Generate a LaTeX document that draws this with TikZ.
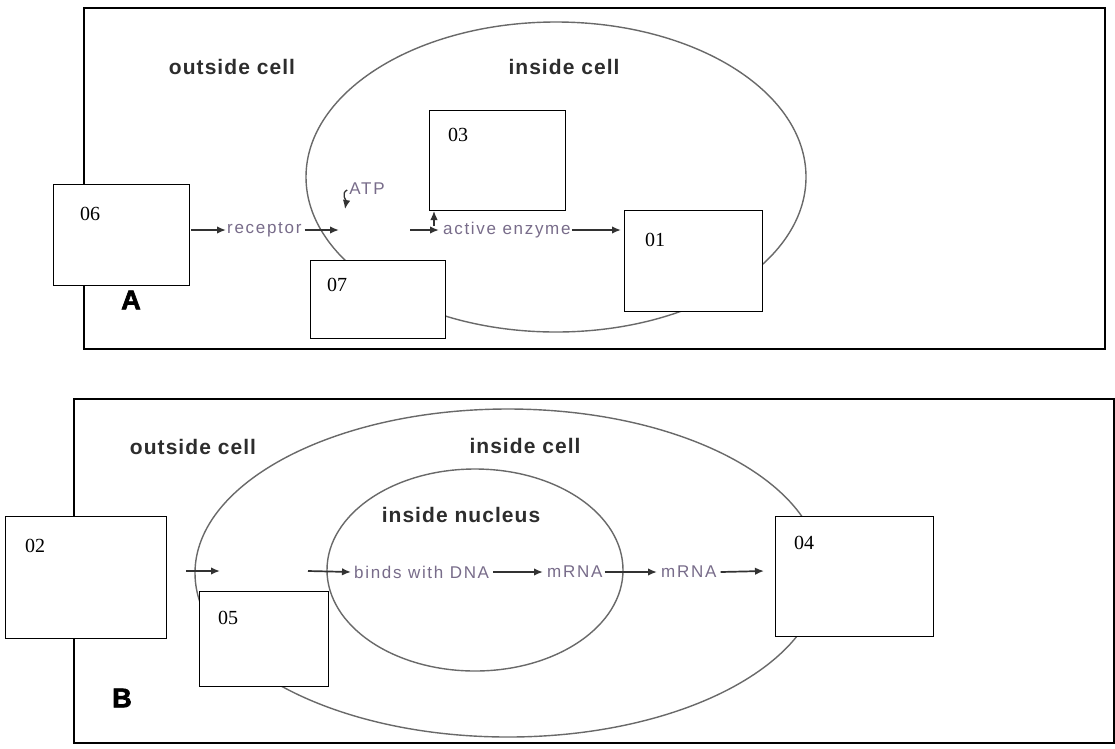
\documentclass[tikz,border=0pt]{standalone}
\usepackage{fontspec}
\setmainfont{Liberation Serif}
\newfontfamily\lblfont[LetterSpace=10]{Liberation Sans}
\newfontfamily\headfont[LetterSpace=5]{Liberation Sans}
\newfontfamily\bigfont[FakeBold=2.5]{Liberation Sans Bold}
\usetikzlibrary{arrows.meta}
\definecolor{lblc}{RGB}{120,108,138}
\definecolor{headc}{RGB}{45,45,45}
\definecolor{cellc}{RGB}{105,105,105}
\definecolor{arrc}{RGB}{50,50,50}
\begin{document}
\begin{tikzpicture}[x=1pt,y=-1pt,
  frame/.style={draw=black,line width=1.5pt,inner sep=0pt,anchor=north west},
  cell/.style={draw=cellc,line width=1.4pt},
  numbox/.style={draw=black,fill=white,line width=1.4pt,inner sep=0pt,anchor=north west},
  num/.style={font=\fontsize{20}{20}\selectfont,inner sep=0pt,anchor=west},
  head/.style={font=\headfont\bfseries\fontsize{21}{21}\selectfont,text=headc,inner sep=0pt},
  lbl/.style={font=\lblfont\fontsize{17}{17}\selectfont,text=lblc,inner sep=0pt},
  big/.style={font=\bigfont\fontsize{27}{27}\selectfont,text=black,inner sep=0pt},
  arr/.style={-{Latex[length=9pt,width=7.5pt]},line width=1.7pt,draw=arrc}
]
\useasboundingbox (0,0) rectangle (1115,748);
\fill[white] (0,0) rectangle (1115,748);

% ---------- Panel A ----------
\node[frame,minimum width=1021pt,minimum height=341pt] (frA) at (83,7) {};
\draw[cell] (556,177) ellipse [x radius=250pt, y radius=155pt];
\node[head] (outA) at (232,67) {outside cell};
\node[head] (inA) at (564,67) {inside cell};
\node[big] (lA) at (131,300) {A};

\node[lbl,anchor=west] (rec) at (227,230) {receptor};
\node[lbl] (atp) at (367,189) {ATP};
\node[lbl,anchor=west] (enz) at (443,230) {active enzyme};
\coordinate (pA1) at (339,230);
\coordinate (pA2) at (410,230);
\coordinate (pA3) at (345,209);
\coordinate (upA1) at (434,226);
\coordinate (upA2) at (434,211);

\node[numbox,minimum width=136pt,minimum height=101pt] (b06) at (53,184) {};
\node[num] at (80,214) {06};
\node[numbox,minimum width=136pt,minimum height=100pt] (b03) at (429,110) {};
\node[num] at (448,135) {03};
\node[numbox,minimum width=135pt,minimum height=78pt] (b07) at (310,260) {};
\node[num] at (327,285) {07};
\node[numbox,minimum width=138pt,minimum height=101pt] (b01) at (624,210) {};
\node[num] at (645,240) {01};

\draw[arr] (b06.east |- rec.west) ++(1,0) -- ([xshift=-1pt]rec.west);
\draw[arr] (rec.east) ++(3,0) -- (pA1);
\draw[arr,line width=1.3pt] (atp.west) ++(-2,1) to[out=205,in=80] (pA3);
\draw[arr] (pA2) -- ([xshift=-4pt]enz.west);
\draw[arr] (enz.east) ++(1,0) -- ([xshift=-3pt]b01.west |- enz.east);
\draw[arr,line width=1.3pt] (upA1) -- (upA2);

% ---------- Panel B ----------
\node[frame,minimum width=1040pt,minimum height=344pt] (frB) at (73,398) {};
\draw[cell] (508,573) ellipse [x radius=313pt, y radius=164pt];
\draw[cell] (475,570) ellipse [x radius=148pt, y radius=101pt];
\node[head] (outB) at (193,447) {outside cell};
\node[head] (inB) at (525,446) {inside cell};
\node[head] (nucB) at (461,515) {inside nucleus};
\node[big] (lB) at (122,698) {B};

\node[lbl,anchor=west] (dna) at (354,572) {binds with DNA};
\node[lbl,anchor=west] (m1) at (547,572) {mRNA};
\node[lbl,anchor=west] (m2) at (661,572) {mRNA};
\coordinate (pB1) at (186,571);
\coordinate (pB2) at (220,571);
\coordinate (pB3) at (308,571);
\coordinate (pB4) at (764,571);

\node[numbox,minimum width=161pt,minimum height=122pt] (b02) at (5,516) {};
\node[num] at (25,546) {02};
\node[numbox,minimum width=129pt,minimum height=95pt] (b05) at (199,591) {};
\node[num] at (218,618) {05};
\node[numbox,minimum width=158pt,minimum height=120pt] (b04) at (775,516) {};
\node[num] at (794,543) {04};

\draw[arr] (pB1) -- (pB2);
\draw[arr] (pB3) -- ([xshift=-3pt]dna.west);
\draw[arr] (dna.east) ++(4,0) -- ([xshift=-4pt]m1.west);
\draw[arr] (m1.east) ++(2,0) -- ([xshift=-4pt]m2.west);
\draw[arr] (m2.east) ++(4,0) -- (pB4);
\end{tikzpicture}
\end{document}
